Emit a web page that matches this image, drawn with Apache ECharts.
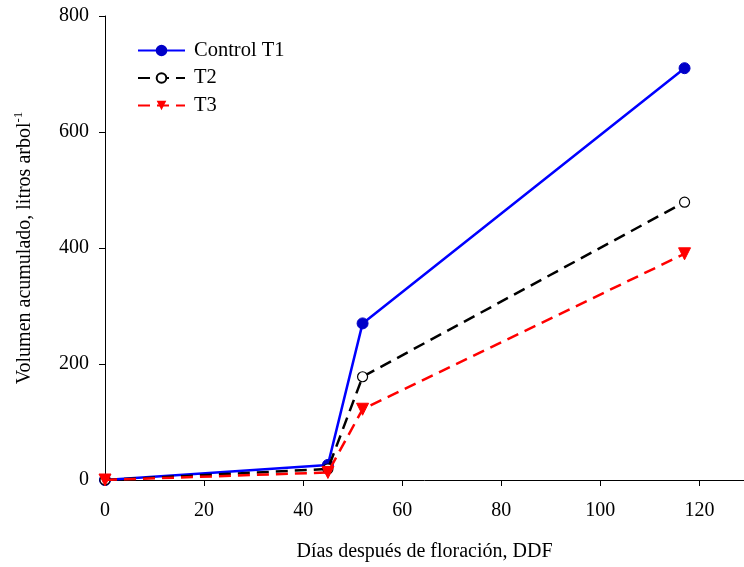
<!DOCTYPE html>
<html>
<head>
<meta charset="utf-8">
<script src="https://cdn.jsdelivr.net/npm/echarts@6/dist/echarts.min.js"></script>
<style>
  html, body { margin: 0; padding: 0; background: #fff; }
  #chart { width: 744px; height: 567px; }
</style>
</head>
<body>
<div id="chart"></div>
<script>
// dias despues de floracion
var dias = [0, 45, 52, 117];
var control = [0, 26, 270, 710];
var t2 = [0, 19, 178, 479];
var t3 = [0, 13, 122, 390];

function pares(ys) {
  return dias.map(function (d, i) { return [d, ys[i]]; });
}

var fuente = "'Liberation Serif', 'Times New Roman', serif";
var myChart = echarts.init(document.getElementById("chart"));
var option = {
  animation: false,
  textStyle: { fontFamily: fuente },
  grid: { left: 105, right: 0, top: 16, bottom: 87 },
  legend: {
    left: 132,
    top: 35,
    orient: "vertical",
    itemWidth: 47,
    itemHeight: 12,
    itemGap: 6.5,
    textStyle: { fontFamily: fuente, fontSize: 20.5, color: "#000", padding: [0, 0, 0, 4] },
    data: ["Control T1", "T2", "T3"]
  },
  xAxis: {
    type: "value",
    min: 0,
    max: 129,
    interval: 20,
    name: "Días después de floración, DDF",
    nameLocation: "middle",
    nameGap: 62,
    nameTextStyle: { fontFamily: fuente, fontSize: 20, color: "#000" },
    axisLine: { lineStyle: { color: "#000", width: 1 } },
    axisTick: { length: 6, lineStyle: { color: "#000" } },
    axisLabel: { fontFamily: fuente, fontSize: 20, color: "#000", margin: 21, showMaxLabel: false },
    splitLine: { show: false }
  },
  yAxis: {
    type: "value",
    min: 0,
    max: 800,
    interval: 200,
    name: "{a|Volumen acumulado, litros arbol}{s|-1}",
    nameLocation: "middle",
    nameGap: 68,
    nameRotate: 90,
    nameTextStyle: {
      fontFamily: fuente,
      fontSize: 20,
      color: "#000",
      rich: {
        a: { fontFamily: fuente, fontSize: 20, color: "#000" },
        s: { fontFamily: fuente, fontSize: 13, color: "#000", verticalAlign: "top", padding: [0, 0, 12, 0] }
      }
    },
    axisLine: { show: true, lineStyle: { color: "#000", width: 1 } },
    axisTick: { show: true, length: 6, lineStyle: { color: "#000" } },
    axisLabel: { fontFamily: fuente, fontSize: 20, color: "#000", margin: 16 },
    splitLine: { show: false }
  },
  series: [
    {
      name: "Control T1",
      type: "line",
      data: pares(control),
      symbol: "circle",
      symbolSize: 11,
      z: 3,
      lineStyle: { color: "#0000ff", width: 2.5 },
      itemStyle: { color: "#0000c8", borderColor: "#0000c8", borderWidth: 1 }
    },
    {
      name: "T2",
      type: "line",
      data: pares(t2),
      symbol: "circle",
      symbolSize: 10,
      z: 4,
      lineStyle: { color: "#000", width: 2.5, type: [12, 7] },
      itemStyle: { color: "#fff", borderColor: "#000", borderWidth: 1.2 }
    },
    {
      name: "T3",
      type: "line",
      data: pares(t3),
      symbol: "triangle",
      symbolRotate: 180,
      symbolSize: 12,
      z: 5,
      lineStyle: { color: "#ff0000", width: 2.5, type: [12, 7] },
      itemStyle: { color: "#ff0000", borderColor: "#ff0000" }
    }
  ]
};
option && myChart.setOption(option);
</script>
</body>
</html>
